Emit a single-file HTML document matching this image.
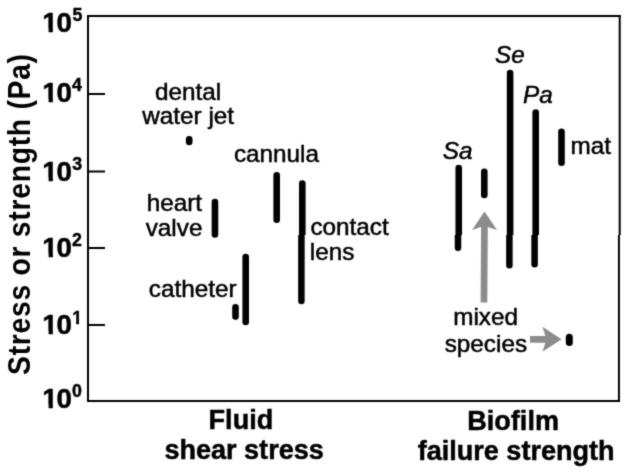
<!DOCTYPE html>
<html lang="en">
<head>
<meta charset="utf-8">
<title>Stress or strength (Pa): fluid shear stress vs biofilm failure strength</title>
<style>
  html, body { margin: 0; padding: 0; background: #ffffff; }
  body { width: 629px; height: 474px; overflow: hidden; }
  svg { display: block; }
  text { font-family: "Liberation Sans", Arial, Helvetica, sans-serif; fill: #000; }
  .lbl { font-size: 24.3px; stroke: #000; stroke-width: 0.5px; }
  .it { font-style: italic; }
  .b { font-weight: bold; }
  .tick { font-weight: bold; font-size: 27.8px; stroke: #000; stroke-width: 0.5px; }
  .sup { font-weight: bold; font-size: 17.8px; stroke: #000; stroke-width: 0.45px; }
  .ax { font-weight: bold; font-size: 27.05px; stroke: #000; stroke-width: 0.5px; }
  .bar { stroke: #000; stroke-width: 6.6; stroke-linecap: round; fill: none; }
  .gray { fill: #8c8c8c; }
</style>
</head>
<body>
<svg width="629" height="474" viewBox="0 0 629 474">
<g filter="url(#soft)">
  <rect x="0" y="0" width="629" height="474" fill="#ffffff"/>

  <!-- plot frame -->
  <defs>
    <filter id="soft" x="0" y="0" width="629" height="474" filterUnits="userSpaceOnUse" color-interpolation-filters="sRGB">
      <feConvolveMatrix order="3" kernelMatrix="0.025 0.1 0.025 0.1 0.5 0.1 0.025 0.1 0.025" divisor="1" edgeMode="duplicate" preserveAlpha="true"/>
    </filter>
    <clipPath id="clipTop"><rect x="0" y="0" width="629" height="235"/></clipPath>
    <clipPath id="clipBot"><rect x="0" y="235" width="629" height="239"/></clipPath>
  </defs>
  <g fill="none" stroke="#000" stroke-width="2">
    <polyline points="88,402.05 88,16 620.75,16"/>
    <line x1="87" y1="401" x2="620" y2="401"/>
    <line x1="619.7" y1="15" x2="619.7" y2="235"/>
    <line x1="618.95" y1="235" x2="618.95" y2="402.05"/>
  </g>

  <!-- ticks -->
  <g stroke="#000" stroke-width="2">
    <line x1="88" y1="94" x2="105" y2="94"/>
    <line x1="88" y1="171.5" x2="105" y2="171.5"/>
    <line x1="88" y1="248" x2="105" y2="248"/>
    <line x1="88" y1="325" x2="105" y2="325"/>
  </g>

  <!-- tick labels -->
  <g id="ticklabels">
    <text class="tick" x="42.35" y="32">1<tspan dx="-1.2">0</tspan></text><text class="sup" x="72.5" y="21">5</text>
    <text class="tick" x="42.35" y="102">1<tspan dx="-1.2">0</tspan></text><text class="sup" x="72.0" y="91">4</text>
    <text class="tick" x="42.35" y="181">1<tspan dx="-1.2">0</tspan></text><text class="sup" x="72.2" y="170">3</text>
    <text class="tick" x="42.35" y="257">1<tspan dx="-1.2">0</tspan></text><text class="sup" x="71.9" y="246">2</text>
    <text class="tick" x="42.35" y="334">1<tspan dx="-1.2">0</tspan></text><text class="sup" x="72.2" y="324">1</text>
    <text class="tick" x="42.35" y="408">1<tspan dx="-1.2">0</tspan></text><text class="sup" x="72.0" y="397">0</text>
  </g>
  <!-- trim the foot serif of the digit 1 (target font has a plain stem) -->
  <g id="trim" fill="#ffffff">
    <rect x="42.70" y="28.56" width="5.89" height="4.74"/><rect x="52.90" y="28.56" width="4.73" height="4.74"/>
    <rect x="42.70" y="98.56" width="5.89" height="4.74"/><rect x="52.90" y="98.56" width="4.73" height="4.74"/>
    <rect x="42.70" y="177.56" width="5.89" height="4.74"/><rect x="52.90" y="177.56" width="4.73" height="4.74"/>
    <rect x="42.70" y="253.56" width="5.89" height="4.74"/><rect x="52.90" y="253.56" width="4.73" height="4.74"/>
    <rect x="42.70" y="330.56" width="5.89" height="4.74"/><rect x="52.90" y="330.56" width="4.73" height="4.74"/>
    <rect x="42.70" y="404.56" width="5.89" height="4.74"/><rect x="52.90" y="404.56" width="4.73" height="4.74"/>
    <rect x="72.12" y="321.73" width="4.01" height="3.32"/><rect x="79.02" y="321.73" width="3.79" height="3.32"/>
  </g>

  <!-- y axis label -->
  <text id="ylabel" class="b" font-size="31.5" letter-spacing="0.78" transform="translate(30.3,374.9) rotate(-90) scale(0.90,1)">Stress or strength (Pa)</text>

  <!-- x group labels -->
  <text id="t_fluid" class="ax" x="208.6" y="429">Fluid</text>
  <text id="t_shear" class="ax" x="164.4" y="459">shear stress</text>
  <text id="t_biofilm" class="ax" x="467.3" y="430">Biofilm</text>
  <text id="t_failure" class="ax" x="417.7" y="460">failure strength</text>

  <!-- fluid shear stress bars -->
  <g class="bar">
    <line x1="189.2" y1="139.3" x2="189.2" y2="141.9"/>
    <line x1="214.95" y1="202.0" x2="214.95" y2="234.4"/>
    <line x1="235.5" y1="307.4" x2="235.5" y2="316.6"/>
    <line x1="245.7" y1="257" x2="245.7" y2="321.9"/>
    <line x1="276.7" y1="175.4" x2="276.7" y2="219.7"/>
  </g>

  <!-- biofilm failure strength bars -->
  <g class="bar">
    <line x1="484.3" y1="171.8" x2="484.3" y2="194.9"/>
    <line x1="561.5" y1="131.7" x2="561.5" y2="162.8"/>
    <line x1="569.3" y1="337.3" x2="569.3" y2="342.4" style="stroke-width:7"/>
  </g>

  <!-- long bars (upper part) -->
  <g class="bar" clip-path="url(#clipTop)">
    <line x1="302.3" y1="183.6" x2="302.3" y2="301"/>
    <line x1="458.75" y1="168.1" x2="458.75" y2="247.7"/>
    <line x1="510.1" y1="73.1" x2="510.1" y2="265.2"/>
    <line x1="535.7" y1="112.5" x2="535.7" y2="264.2"/>
  </g>
  <!-- long bars (lower part) -->
  <g class="bar" clip-path="url(#clipBot)" style="stroke-width:6.5">
    <line x1="301.4" y1="183.6" x2="301.4" y2="301"/>
    <line x1="458.0" y1="169" x2="458.0" y2="247.7"/>
    <line x1="509.4" y1="73.1" x2="509.4" y2="265.2"/>
    <line x1="534.6" y1="112.5" x2="534.6" y2="264.2"/>
  </g>

  <!-- gray arrows -->
  <polygon class="gray" points="484.5,211.5 497,230 487.8,227 487.3,302.4 480.6,302.4 481.1,227 472,230"/>
  <polygon class="gray" points="561.6,339.2 542.4,351.8 545.4,342.7 530,342.7 530,336 545.4,336 542.4,326.8"/>

  <!-- data labels -->
  <text id="t_dental" class="lbl" x="155.00" y="100">dental</text>
  <text id="t_water" class="lbl" x="142.30" y="124">water jet</text>
  <text id="t_heart" class="lbl" x="146.70" y="211">heart</text>
  <text id="t_valve" class="lbl" x="145.70" y="236">valve</text>
  <text id="t_catheter" class="lbl" x="148.80" y="297">catheter</text>
  <text id="t_cannula" class="lbl" x="233.90" y="162">cannula</text>
  <text id="t_contact" class="lbl" x="310.40" y="235">contact</text>
  <text id="t_lens" class="lbl" x="309.80" y="260">lens</text>
  <text id="t_sa" class="lbl it" x="442.80" y="159">Sa</text>
  <text id="t_se" class="lbl it" x="495.10" y="63">Se</text>
  <text id="t_pa" class="lbl it" x="523.00" y="103">Pa</text>
  <text id="t_mat" class="lbl" x="570.40" y="154">mat</text>
  <text id="t_mixed" class="lbl" x="453.20" y="325">mixed</text>
  <text id="t_species" class="lbl" x="444.70" y="352">species</text>
</g>
</svg>
</body>
</html>
